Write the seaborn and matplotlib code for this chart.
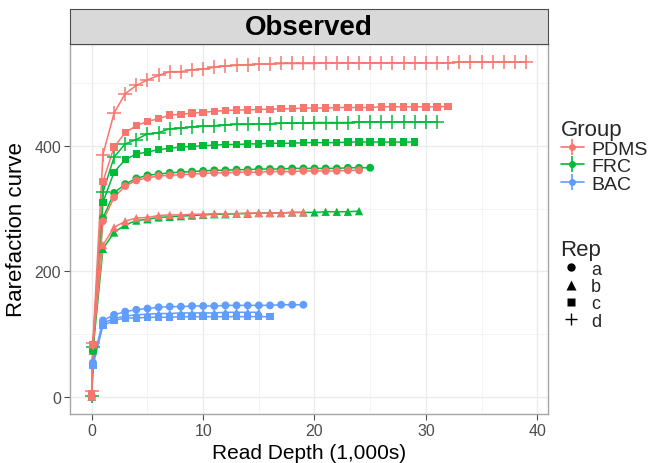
import pandas as pd
import seaborn as sns
import matplotlib.pyplot as plt
from matplotlib.lines import Line2D

# Rarefaction values (x in 1,000s of reads)
start_x = [0.0, 0.1]

pdms_a_start = [1, 84]
pdms_a = [280, 318, 336, 345, 349, 352, 353, 354, 355, 356, 357, 357, 358, 358, 358, 359,
          359, 359, 360, 360, 360, 360, 361, 361]
pdms_b_start = [1, 84]
pdms_b = [242, 270, 280, 285, 286, 289, 290, 290, 291, 291, 292, 292, 292, 293, 293, 293,
          293, 294, 294]
pdms_c_start = [6, 84]
pdms_c = [343, 398, 421, 432, 439, 443, 449, 450, 452, 453, 455, 456, 457, 457, 458, 458,
          459, 459, 460, 460, 460, 461, 461, 461, 461, 462, 462, 462, 462, 462, 462, 463]
pdms_d_start = [9, 86]
pdms_d = [386, 452, 483, 496, 505, 512, 518, 518, 521, 522, 525, 527, 528, 529, 530, 530,
          531, 531, 531, 531, 532, 532, 532, 532, 532, 532, 532, 532, 532, 532, 532, 532,
          533, 533, 533, 533, 533, 533, 533]

frc_a_start = [1, 78]
frc_a = [285, 325, 339, 348, 353, 355, 357, 358, 359, 360, 361, 361, 362, 362, 363, 363,
         363, 364, 364, 364, 364, 364, 365, 365, 365]
frc_b_start = [1, 74]
frc_b = [236, 262, 274, 281, 283, 286, 287, 288, 289, 290, 291, 291, 292, 292, 293, 293,
         293, 294, 294, 294, 295, 295, 295, 296]
frc_c_start = [1, 76]
frc_c = [310, 358, 378, 387, 390, 394, 396, 398, 399, 400, 401, 402, 402, 403, 403, 404,
         404, 404, 405, 405, 405, 405, 406, 406, 406, 406, 406, 406, 406]
frc_d_start = [1, 80]
frc_d = [326, 382, 403, 410, 419, 421, 427, 428, 430, 431, 432, 433, 434, 434, 435, 435,
         436, 436, 436, 437, 437, 437, 437, 438, 438, 438, 438, 438, 438, 438, 438]

bac_a_start = [1, 55]
bac_a = [122, 131, 136, 139, 141, 143, 144, 144, 145, 145, 145, 146, 146, 146, 146, 146,
         147, 147, 147]
bac_b_start = [1, 53]
bac_b = [118, 125, 129, 131, 132, 133, 133, 134, 134, 134, 134, 135, 135, 135, 135]
bac_c_start = [1, 50]
bac_c = [114, 122, 126, 126, 127, 127, 127, 128, 128, 128, 128, 128, 128, 128, 128, 128]

groups = ['PDMS', 'FRC', 'BAC']
reps = ['a', 'b', 'c', 'd']
colors = ['#F8766D', '#00BA38', '#619CFF']

samples = [
    ('PDMS', 'a', pdms_a_start, pdms_a), ('PDMS', 'b', pdms_b_start, pdms_b),
    ('PDMS', 'c', pdms_c_start, pdms_c), ('PDMS', 'd', pdms_d_start, pdms_d),
    ('FRC', 'a', frc_a_start, frc_a), ('FRC', 'b', frc_b_start, frc_b),
    ('FRC', 'c', frc_c_start, frc_c), ('FRC', 'd', frc_d_start, frc_d),
    ('BAC', 'a', bac_a_start, bac_a), ('BAC', 'b', bac_b_start, bac_b),
    ('BAC', 'c', bac_c_start, bac_c),
]

rows = []
for g, r, s0, vals in samples:
    xs = start_x + list(range(1, len(vals) + 1))
    for x, v in zip(xs, s0 + vals):
        rows.append({'Sample': g + r, 'Group': g, 'Rep': r, 'Depth': x, 'Richness': v})
df = pd.DataFrame(rows)

sns.set_theme(style='whitegrid')
plt.rcParams['font.family'] = ['Liberation Sans', 'DejaVu Sans']

fig = plt.figure(figsize=(6.49, 4.64), dpi=100)
ax = fig.add_axes([0.108, 0.106, 0.736, 0.797])

palette = dict(zip(groups, colors))
markers = {'a': 'o', 'b': '^', 'c': 's'}
sizes_by_rep = {'a': 32, 'b': 36, 'c': 28}

# lines, one per sample (reverse order so PDMS sits on top)
for g in groups[::-1]:
    sub = df[df['Group'] == g]
    sns.lineplot(data=sub, x='Depth', y='Richness', units='Sample', estimator=None,
                 color=palette[g], lw=1.1, ax=ax, legend=False)
    for r in reps:
        pts = sub[sub['Rep'] == r]
        if pts.empty:
            continue
        if r == 'd':
            ax.scatter(pts['Depth'], pts['Richness'], marker='+', s=90, color=palette[g],
                       linewidths=1.1, zorder=3)
        else:
            sns.scatterplot(data=pts, x='Depth', y='Richness', marker=markers[r],
                            s=sizes_by_rep[r], color=palette[g], edgecolor='none',
                            ax=ax, legend=False, zorder=3)

ax.set_xlim(-1.95, 40.95)
ax.set_ylim(-26.6, 562)
ax.set_xticks([0, 10, 20, 30, 40])
ax.set_yticks([0, 200, 400])
ax.set_xticks([5, 15, 25, 35], minor=True)
ax.set_yticks([100, 300, 500], minor=True)
ax.grid(True, which='major', color='#EBEBEB', lw=1.0)
ax.grid(True, which='minor', color='#F2F2F2', lw=0.6)
ax.set_facecolor('white')
for sp in ax.spines.values():
    sp.set_color('#A6A6A6')
    sp.set_linewidth(1.0)
ax.tick_params(axis='both', which='major', length=4, width=0.8, color='#4D4D4D',
               labelsize=11.5, labelcolor='#4D4D4D', pad=2.5, bottom=True, left=True)
ax.tick_params(axis='both', which='minor', length=0)
ax.set_xlabel('Read Depth (1,000s)', fontsize=15, color='black', labelpad=4)
ax.set_ylabel('Rarefaction curve', fontsize=16, color='black', labelpad=5)

# facet strip
strip = fig.add_axes([0.108, 0.903, 0.736, 0.0754])
strip.set_facecolor('#D9D9D9')
strip.set_xticks([])
strip.set_yticks([])
strip.grid(False)
for sp in strip.spines.values():
    sp.set_color('#4D4D4D')
    sp.set_linewidth(0.8)
strip.text(0.5, 0.48, 'Observed', ha='center', va='center', fontsize=20,
           fontweight='bold', color='black', transform=strip.transAxes)

# legends
group_handles = [(Line2D([], [], color=c, lw=1.2, marker='|', markersize=11, mew=1.2),
                  Line2D([], [], color=c, ls='', marker='o', markersize=5, mec='none'))
                 for c in colors]
leg1 = fig.legend(group_handles, groups, title='Group', loc='upper left',
                  bbox_to_anchor=(0.852, 0.758), frameon=False, fontsize=14,
                  title_fontsize=16, handlelength=1.2, handletextpad=0.4,
                  labelspacing=0.0, borderaxespad=0)
leg1._legend_box.align = 'left'

rep_handles = [Line2D([], [], color='black', ls='', marker='o', markersize=6, mec='none'),
               Line2D([], [], color='black', ls='', marker='^', markersize=6.5, mec='none'),
               Line2D([], [], color='black', ls='', marker='s', markersize=5.5, mec='none'),
               Line2D([], [], color='black', ls='', marker='+', markersize=9, mew=1.0)]
leg2 = fig.legend(rep_handles, reps, title='Rep', loc='upper left',
                  bbox_to_anchor=(0.852, 0.498), frameon=False, fontsize=13,
                  title_fontsize=16, handlelength=1.2, handletextpad=0.5,
                  labelspacing=0.02, borderaxespad=0)
leg2._legend_box.align = 'left'

fig.savefig('out.png', dpi=100)
